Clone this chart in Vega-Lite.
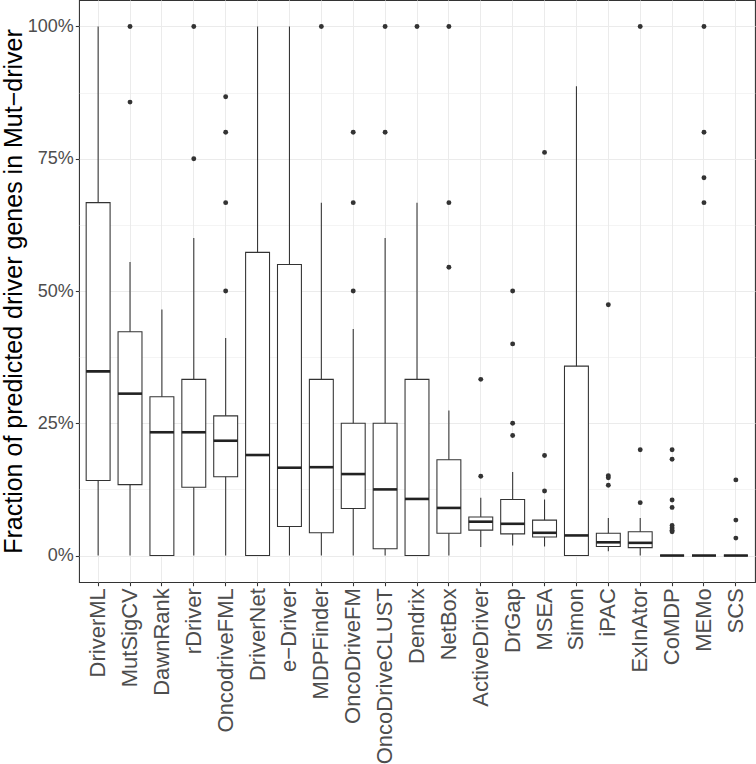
{
  "$schema": "https://vega.github.io/schema/vega-lite/v6.json",
  "width": 676,
  "height": 582,
  "autosize": {"type": "none"},
  "padding": {"left": 79, "top": 0, "right": 1, "bottom": 182},
  "background": "white",
  "config": {
    "font": "Liberation Sans",
    "view": {"stroke": "#333333", "strokeWidth": 1.07},
    "axis": {"domain": false, "tickColor": "#333333", "tickWidth": 1.07, "tickSize": 3.7, "gridColor": "#EBEBEB", "gridWidth": 1.07, "labelColor": "#4D4D4D", "labelFont": "Liberation Sans", "titleFont": "Liberation Sans", "titleFontWeight": "normal", "titleColor": "#000000"}
  },
  "datasets": {
    "boxes": [
      {"method": "DriverML", "lower": 0, "q1": 0.142, "median": 0.348, "q3": 0.667, "upper": 1.0},
      {"method": "MutSigCV", "lower": 0, "q1": 0.134, "median": 0.306, "q3": 0.423, "upper": 0.555},
      {"method": "DawnRank", "lower": 0, "q1": 0, "median": 0.233, "q3": 0.30, "upper": 0.465},
      {"method": "rDriver", "lower": 0, "q1": 0.129, "median": 0.233, "q3": 0.333, "upper": 0.60},
      {"method": "OncodriveFML", "lower": 0, "q1": 0.149, "median": 0.217, "q3": 0.264, "upper": 0.411},
      {"method": "DriverNet", "lower": 0, "q1": 0, "median": 0.19, "q3": 0.573, "upper": 1.0},
      {"method": "e−Driver", "lower": 0, "q1": 0.055, "median": 0.166, "q3": 0.55, "upper": 1.0},
      {"method": "MDPFinder", "lower": 0, "q1": 0.043, "median": 0.167, "q3": 0.333, "upper": 0.667},
      {"method": "OncoDriveFM", "lower": 0, "q1": 0.089, "median": 0.154, "q3": 0.25, "upper": 0.428},
      {"method": "OncoDriveCLUST", "lower": 0, "q1": 0.013, "median": 0.125, "q3": 0.25, "upper": 0.60},
      {"method": "Dendrix", "lower": 0, "q1": 0, "median": 0.107, "q3": 0.333, "upper": 0.667},
      {"method": "NetBox", "lower": 0, "q1": 0.042, "median": 0.09, "q3": 0.181, "upper": 0.274},
      {"method": "ActiveDriver", "lower": 0.016, "q1": 0.048, "median": 0.064, "q3": 0.073, "upper": 0.109},
      {"method": "DrGap", "lower": 0.019, "q1": 0.041, "median": 0.06, "q3": 0.106, "upper": 0.158},
      {"method": "MSEA", "lower": 0.017, "q1": 0.035, "median": 0.043, "q3": 0.067, "upper": 0.106},
      {"method": "Simon", "lower": 0, "q1": 0, "median": 0.038, "q3": 0.358, "upper": 0.887},
      {"method": "iPAC", "lower": 0.008, "q1": 0.017, "median": 0.025, "q3": 0.042, "upper": 0.071},
      {"method": "ExInAtor", "lower": 0, "q1": 0.015, "median": 0.024, "q3": 0.045, "upper": 0.071},
      {"method": "CoMDP", "lower": 0, "q1": 0, "median": 0, "q3": 0, "upper": 0},
      {"method": "MEMo", "lower": 0, "q1": 0, "median": 0, "q3": 0, "upper": 0},
      {"method": "SCS", "lower": 0, "q1": 0, "median": 0, "q3": 0, "upper": 0}
    ],
    "outliers": [
      {"method": "MutSigCV", "value": 1.0},
      {"method": "MutSigCV", "value": 0.857},
      {"method": "rDriver", "value": 1.0},
      {"method": "rDriver", "value": 0.75},
      {"method": "OncodriveFML", "value": 0.867},
      {"method": "OncodriveFML", "value": 0.80},
      {"method": "OncodriveFML", "value": 0.667},
      {"method": "OncodriveFML", "value": 0.50},
      {"method": "MDPFinder", "value": 1.0},
      {"method": "OncoDriveFM", "value": 0.80},
      {"method": "OncoDriveFM", "value": 0.667},
      {"method": "OncoDriveFM", "value": 0.50},
      {"method": "OncoDriveCLUST", "value": 1.0},
      {"method": "OncoDriveCLUST", "value": 0.80},
      {"method": "Dendrix", "value": 1.0},
      {"method": "NetBox", "value": 1.0},
      {"method": "NetBox", "value": 0.667},
      {"method": "NetBox", "value": 0.545},
      {"method": "ActiveDriver", "value": 0.333},
      {"method": "ActiveDriver", "value": 0.15},
      {"method": "DrGap", "value": 0.50},
      {"method": "DrGap", "value": 0.40},
      {"method": "DrGap", "value": 0.25},
      {"method": "DrGap", "value": 0.227},
      {"method": "MSEA", "value": 0.762},
      {"method": "MSEA", "value": 0.189},
      {"method": "MSEA", "value": 0.122},
      {"method": "iPAC", "value": 0.474},
      {"method": "iPAC", "value": 0.151},
      {"method": "iPAC", "value": 0.147},
      {"method": "iPAC", "value": 0.133},
      {"method": "ExInAtor", "value": 1.0},
      {"method": "ExInAtor", "value": 0.20},
      {"method": "ExInAtor", "value": 0.10},
      {"method": "CoMDP", "value": 0.20},
      {"method": "CoMDP", "value": 0.182},
      {"method": "CoMDP", "value": 0.105},
      {"method": "CoMDP", "value": 0.091},
      {"method": "CoMDP", "value": 0.057},
      {"method": "CoMDP", "value": 0.052},
      {"method": "CoMDP", "value": 0.048},
      {"method": "CoMDP", "value": 0.045},
      {"method": "MEMo", "value": 1.0},
      {"method": "MEMo", "value": 0.80},
      {"method": "MEMo", "value": 0.714},
      {"method": "MEMo", "value": 0.667},
      {"method": "SCS", "value": 0.143},
      {"method": "SCS", "value": 0.067},
      {"method": "SCS", "value": 0.033}
    ]
  },
  "encoding": {
    "x": {
      "field": "method",
      "type": "nominal",
      "scale": {
        "type": "band",
        "paddingInner": 0,
        "paddingOuter": 0.1,
        "domain": ["DriverML", "MutSigCV", "DawnRank", "rDriver", "OncodriveFML", "DriverNet", "e−Driver", "MDPFinder", "OncoDriveFM", "OncoDriveCLUST", "Dendrix", "NetBox", "ActiveDriver", "DrGap", "MSEA", "Simon", "iPAC", "ExInAtor", "CoMDP", "MEMo", "SCS"]
      },
      "axis": {"title": null, "labelAngle": -90, "labelFontSize": 22, "labelPadding": 2, "labelColor": "#4D4D4D", "grid": true}
    }
  },
  "layer": [
    {
      "data": {"name": "boxes"},
      "mark": {"type": "rule", "color": "#333333", "strokeWidth": 1.07},
      "encoding": {
        "y": {
          "field": "lower",
          "type": "quantitative",
          "scale": {"domain": [-0.05, 1.05], "nice": false, "zero": false},
          "axis": {
            "title": "Fraction of predicted driver genes in Mut−driver",
            "titleFontSize": 25,
            "titleX": -58,
            "titleBaseline": "alphabetic",
            "values": [0, 0.125, 0.25, 0.375, 0.5, 0.625, 0.75, 0.875, 1.0],
            "labelExpr": "round(datum.value*4) == datum.value*4 ? format(datum.value, '.0%') : ''",
            "labelFontSize": 18,
            "labelPadding": 2,
            "gridWidth": {"condition": {"test": "round(datum.value*4) == datum.value*4", "value": 1.07}, "value": 0.53},
            "tickOpacity": {"condition": {"test": "round(datum.value*4) == datum.value*4", "value": 1}, "value": 0}
          }
        },
        "y2": {"field": "upper"}
      }
    },
    {
      "data": {"name": "boxes"},
      "mark": {"type": "bar", "fill": "white", "stroke": "#333333", "strokeWidth": 1.07, "width": {"band": 0.75}},
      "encoding": {
        "y": {"field": "q1", "type": "quantitative"},
        "y2": {"field": "q3"}
      }
    },
    {
      "data": {"name": "boxes"},
      "mark": {"type": "tick", "color": "#222222", "thickness": 2.6, "size": 24, "opacity": 1},
      "encoding": {
        "y": {"field": "median", "type": "quantitative"}
      }
    },
    {
      "data": {"name": "outliers"},
      "mark": {"type": "point", "filled": true, "color": "#333333", "size": 24, "opacity": 1},
      "encoding": {
        "y": {"field": "value", "type": "quantitative"}
      }
    }
  ]
}
